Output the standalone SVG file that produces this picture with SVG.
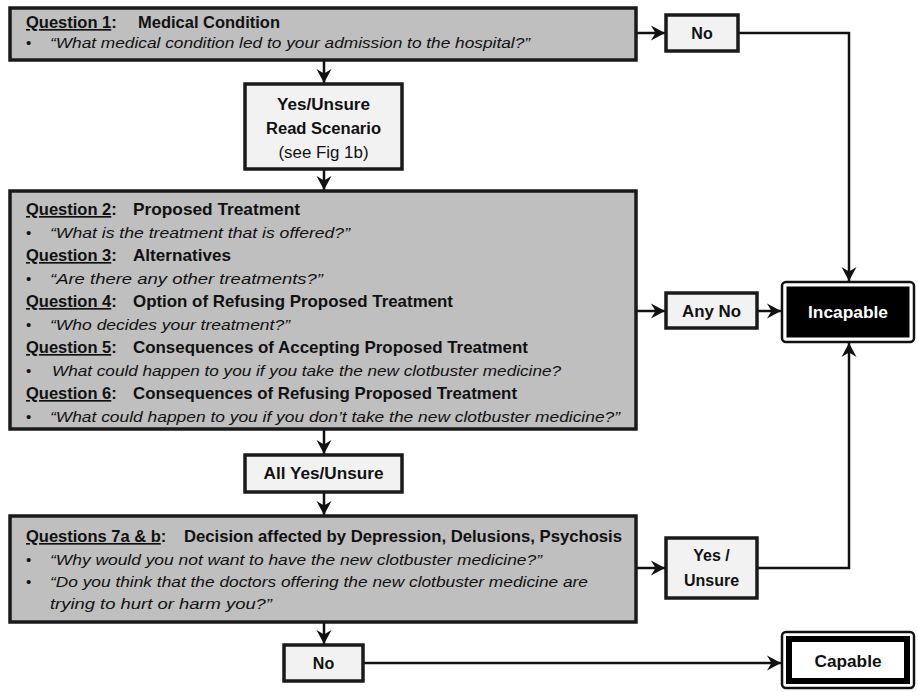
<svg xmlns="http://www.w3.org/2000/svg" width="918" height="692" viewBox="0 0 918 692">
<defs>
<style>
.q{fill:#bfbfbf;stroke:#1a1a1a;stroke-width:3.5}
.s{fill:#f2f2f2;stroke:#1a1a1a;stroke-width:3.5}
.h{font-family:"Liberation Sans",Arial,sans-serif;font-weight:bold;font-size:16.5px;fill:#111}
.i{font-family:"Liberation Sans",Arial,sans-serif;font-style:italic;font-size:15px;fill:#111}
.b{font-family:"Liberation Sans",Arial,sans-serif;font-size:15px;fill:#111}
.c{font-family:"Liberation Sans",Arial,sans-serif;font-weight:bold;font-size:16px;fill:#111;text-anchor:middle}
.r{font-family:"Liberation Sans",Arial,sans-serif;font-size:16px;fill:#111;text-anchor:middle}
.u{text-decoration:underline}
.con{fill:none;stroke:#111;stroke-width:2.5}
</style>
<marker id="ah" markerUnits="userSpaceOnUse" markerWidth="16" markerHeight="16" refX="14" refY="8" orient="auto">
<path d="M0,0.5 L14,8 L0,15.5 L4.5,8 Z" fill="#111"/>
</marker>
</defs>
<rect width="918" height="692" fill="#fff"/>

<g id="connectors">
<path class="con" d="M636,33 H665" marker-end="url(#ah)"/>
<path class="con" d="M738,33 H849 V281" marker-end="url(#ah)"/>
<path class="con" d="M324,60 V83" marker-end="url(#ah)"/>
<path class="con" d="M324,169 V190" marker-end="url(#ah)"/>
<path class="con" d="M636,311 H665" marker-end="url(#ah)"/>
<path class="con" d="M757,311 H781" marker-end="url(#ah)"/>
<path class="con" d="M324,429 V454" marker-end="url(#ah)"/>
<path class="con" d="M324,492 V515" marker-end="url(#ah)"/>
<path class="con" d="M636,568 H665" marker-end="url(#ah)"/>
<path class="con" d="M757,568 H849 V343" marker-end="url(#ah)"/>
<path class="con" d="M324,622 V644" marker-end="url(#ah)"/>
<path class="con" d="M363,663 H781" marker-end="url(#ah)"/>
</g>

<g id="q1">
<rect class="q" x="10" y="8" width="626" height="52"/>
<text class="h" x="26" y="28"><tspan class="u">Question 1</tspan>:</text>
<text class="h" x="138" y="28" textLength="142" lengthAdjust="spacingAndGlyphs">Medical Condition</text>
<text class="b" x="26" y="48">•</text>
<text class="i" x="50" y="48" textLength="480" lengthAdjust="spacingAndGlyphs">“What medical condition led to your admission to the hospital?”</text>
</g>

<g id="no-top">
<rect class="s" x="666" y="15" width="72" height="36"/>
<text class="c" x="702" y="39">No</text>
</g>

<g id="yes-read">
<rect class="s" x="245" y="84" width="157" height="85"/>
<text class="c" x="323.5" y="110" textLength="93" lengthAdjust="spacingAndGlyphs">Yes/Unsure</text>
<text class="c" x="323.5" y="134" textLength="115" lengthAdjust="spacingAndGlyphs">Read Scenario</text>
<text class="r" x="323.5" y="158" textLength="90" lengthAdjust="spacingAndGlyphs">(see Fig 1b)</text>
</g>

<g id="q2-6">
<rect class="q" x="10" y="191" width="626" height="238"/>
<text class="h" x="26" y="215"><tspan class="u">Question 2</tspan>:</text>
<text class="h" x="133" y="215" textLength="167" lengthAdjust="spacingAndGlyphs">Proposed Treatment</text>
<text class="b" x="26" y="238">•</text>
<text class="i" x="50" y="238" textLength="300" lengthAdjust="spacingAndGlyphs">“What is the treatment that is offered?”</text>
<text class="h" x="26" y="261"><tspan class="u">Question 3</tspan>:</text>
<text class="h" x="133" y="261" textLength="98" lengthAdjust="spacingAndGlyphs">Alternatives</text>
<text class="b" x="26" y="284">•</text>
<text class="i" x="50" y="284" textLength="273" lengthAdjust="spacingAndGlyphs">“Are there any other treatments?”</text>
<text class="h" x="26" y="307"><tspan class="u">Question 4</tspan>:</text>
<text class="h" x="133" y="307" textLength="320" lengthAdjust="spacingAndGlyphs">Option of Refusing Proposed Treatment</text>
<text class="b" x="26" y="330">•</text>
<text class="i" x="50" y="330" textLength="240" lengthAdjust="spacingAndGlyphs">“Who decides your treatment?”</text>
<text class="h" x="26" y="353"><tspan class="u">Question 5</tspan>:</text>
<text class="h" x="133" y="353" textLength="395" lengthAdjust="spacingAndGlyphs">Consequences of Accepting Proposed Treatment</text>
<text class="b" x="26" y="376">•</text>
<text class="i" x="52" y="376" textLength="509" lengthAdjust="spacingAndGlyphs">What could happen to you if you take the new clotbuster medicine?</text>
<text class="h" x="26" y="399"><tspan class="u">Question 6</tspan>:</text>
<text class="h" x="133" y="399" textLength="384" lengthAdjust="spacingAndGlyphs">Consequences of Refusing Proposed Treatment</text>
<text class="b" x="26" y="422">•</text>
<text class="i" x="50" y="422" textLength="570" lengthAdjust="spacingAndGlyphs">“What could happen to you if you don’t take the new clotbuster medicine?”</text>
</g>

<g id="any-no">
<rect class="s" x="666" y="293" width="91" height="35"/>
<text class="c" x="711.5" y="317" textLength="59" lengthAdjust="spacingAndGlyphs">Any No</text>
</g>

<g id="incapable">
<rect x="782" y="282" width="132" height="60" rx="4" fill="#fff" stroke="#111" stroke-width="2.5"/>
<rect x="786.5" y="286.5" width="123" height="51" fill="#000"/>
<text class="c" x="848" y="318" fill="#fff" style="fill:#fff" textLength="80" lengthAdjust="spacingAndGlyphs">Incapable</text>
</g>

<g id="all-yes">
<rect class="s" x="245" y="455" width="157" height="37"/>
<text class="c" x="323.5" y="479" textLength="120" lengthAdjust="spacingAndGlyphs">All Yes/Unsure</text>
</g>

<g id="q7">
<rect class="q" x="10" y="516" width="626" height="106"/>
<text class="h" x="26" y="542"><tspan class="u">Questions 7a &amp; b</tspan>:</text>
<text class="h" x="184" y="542" textLength="438" lengthAdjust="spacingAndGlyphs">Decision affected by Depression, Delusions, Psychosis</text>
<text class="b" x="26" y="565">•</text>
<text class="i" x="50" y="565" textLength="492" lengthAdjust="spacingAndGlyphs">“Why would you not want to have the new clotbuster medicine?”</text>
<text class="b" x="26" y="587">•</text>
<text class="i" x="50" y="587" textLength="538" lengthAdjust="spacingAndGlyphs">“Do you think that the doctors offering the new clotbuster medicine are</text>
<text class="i" x="50" y="609" textLength="222" lengthAdjust="spacingAndGlyphs">trying to hurt or harm you?”</text>
</g>

<g id="yes-unsure">
<rect class="s" x="666" y="538" width="91" height="60"/>
<text class="c" x="711.5" y="561">Yes /</text>
<text class="c" x="711.5" y="586">Unsure</text>
</g>

<g id="no-bottom">
<rect class="s" x="284" y="645" width="79" height="36"/>
<text class="c" x="323.5" y="669">No</text>
</g>

<g id="capable">
<rect x="782" y="632" width="132" height="56" rx="4" fill="#fff" stroke="#111" stroke-width="2.5"/>
<rect x="789" y="639" width="118" height="42" fill="#fff" stroke="#000" stroke-width="6"/>
<text class="c" x="848" y="667" textLength="67" lengthAdjust="spacingAndGlyphs">Capable</text>
</g>
</svg>
